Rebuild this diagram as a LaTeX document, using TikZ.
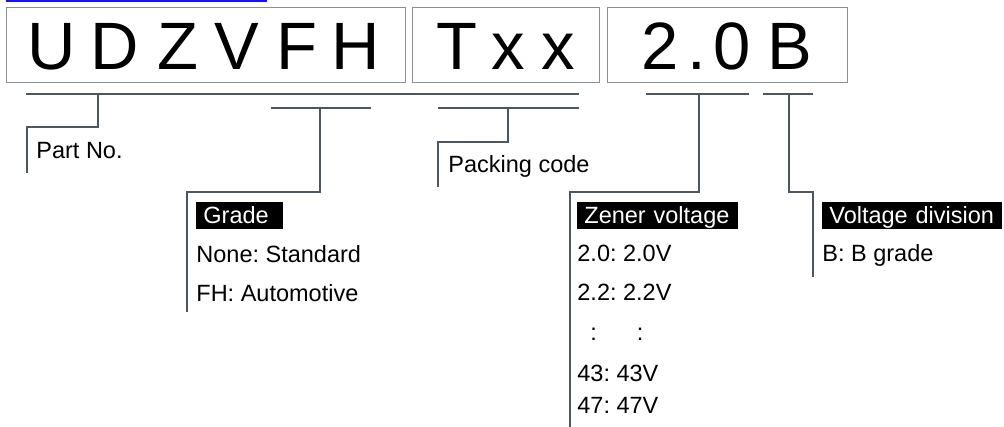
\documentclass[tikz,border=0pt]{standalone}
\usepackage{fontspec}
\setmainfont{Liberation Sans}
\usepackage{tikz}
\definecolor{leadgray}{RGB}{78,86,94}
\definecolor{boxgray}{RGB}{138,143,148}
\definecolor{linkblue}{RGB}{20,20,240}
\frenchspacing

\begin{document}
\begin{tikzpicture}[x=0.5pt,y=-0.5pt,
  lead/.style={draw=leadgray, line width=1pt},
  codebox/.style={draw=boxgray, line width=0.5pt, anchor=north west, inner sep=0pt, minimum height=37.5pt},
  big/.style={anchor=base, inner sep=0pt, font=\fontsize{33.5}{40}\selectfont},
  lbl/.style={anchor=base west, inner sep=0pt, font=\fontsize{11.75}{14}\selectfont},
  tag/.style={anchor=north west, fill=black, text=white, inner xsep=3.5pt, inner ysep=0pt,
    text height=10.5pt, text depth=3pt, align=left, font=\fontsize{11.75}{14}\selectfont}]
  \useasboundingbox (0,0) rectangle (1004,427);
  \fill[linkblue] (6,0) rectangle (267,2.5);

  % code boxes
  \node[codebox, minimum width=199.5pt] (partbox) at (6,7) {};
  \node[codebox, minimum width=93.5pt] (packbox) at (412,7) {};
  \node[codebox, minimum width=120pt] (voltbox) at (607,7) {};
  \foreach \ch/\cx [count=\i] in {U/52,D/115,Z/178,V/237,F/297,H/356,T/457,x/508,x/558,2/660,./697,0/732,B/790}
    \node[big] (ch\i) at (\cx,70) {\ch};

  % bracket lines
  \coordinate (pn1) at (98,94);   \coordinate (pn2) at (27,127);  \coordinate (pn3) at (27,173);
  \coordinate (gr1) at (320,108); \coordinate (gr2) at (187,192); \coordinate (gr3) at (187,312);
  \coordinate (pk1) at (508,108); \coordinate (pk2) at (438,142); \coordinate (pk3) at (438,187);
  \coordinate (zv1) at (699,94);  \coordinate (zv2) at (570,192); \coordinate (zv3) at (570,427);
  \coordinate (vd1) at (789,94);  \coordinate (vd2) at (813,192); \coordinate (vd3) at (813,277);
  \draw[lead] (26,94) -- (579,94);
  \draw[lead] (271,108) -- (371,108);
  \draw[lead] (438,108) -- (579,108);
  \draw[lead] (646,94) -- (749,94);
  \draw[lead] (763,94) -- (813,94);
  \draw[lead] (pn1) |- (pn2) -- (pn3);
  \draw[lead] (gr1) |- (gr2) -- (gr3);
  \draw[lead] (pk1) |- (pk2) -- (pk3);
  \draw[lead] (zv1) |- (zv2) -- (zv3);
  \draw[lead] (vd1) |- (vd2) -- (vd3);

  % labels
  \node[lbl] (partno) at (36,159) {Part No.};
  \node[lbl] (packing) at (448,173) {Packing code};
  \node[tag, text width=36.5pt] (grade) at (196,202) {Grade};
  \node[lbl] (gnone) at (196,262) {None: Standard};
  \node[lbl] (gfh) at (196,301) {FH: Automotive};
  \node[tag, text width=73.5pt] (zener) at (577,202) {Zener voltage};
  \node[lbl] (z20) at (577,261) {2.0: 2.0V};
  \node[lbl] (z22) at (577,300) {2.2: 2.2V};
  \node[lbl] (zdots) at (577,340) {\hspace{6.5pt}:\hspace{20pt}:};
  \node[lbl] (z43) at (577,381) {43: 43V};
  \node[lbl] (z47) at (577,413) {47: 47V};
  \node[tag, text width=83pt] (vdiv) at (822,202) {Voltage division};
  \node[lbl] (vb) at (822,261) {B: B grade};
\end{tikzpicture}
\end{document}
